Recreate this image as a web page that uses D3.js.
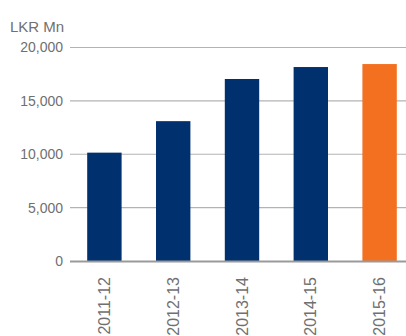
<!DOCTYPE html>
<meta charset="utf-8">
<head>
<script src="https://d3js.org/d3.v7.min.js"></script>
<style>
  body { margin: 0; background: #fff; }
  text { font-family: "Liberation Sans", Arial, sans-serif; fill: #707070; }
</style>
</head>
<body>
<svg width="406" height="336"></svg>
<script>
var years = ["2011-12", "2012-13", "2013-14", "2014-15", "2015-16"];
var values = [10150, 13100, 17050, 18170, 18450];
var barColors = ["#00306e", "#00306e", "#00306e", "#00306e", "#f37021"];
var yTicks = [0, 5000, 10000, 15000, 20000];

var svg = d3.select("svg"),
    margin = {top: 47.5, right: 0, bottom: 75, left: 70},
    width = +svg.attr("width") - margin.left - margin.right,
    height = 261 - margin.top,
    g = svg.append("g").attr("transform", "translate(" + margin.left + "," + margin.top + ")");

var x = d3.scaleBand()
    .domain(years)
    .range([0, width + 8])
    .paddingInner(0.5)
    .paddingOuter(0.25);

var y = d3.scaleLinear()
    .domain([0, 20000])
    .range([height, 0]);

// grid lines
g.append("g")
  .selectAll("line")
  .data(yTicks.slice(1))
  .enter().append("line")
  .attr("x1", 0)
  .attr("x2", width)
  .attr("y1", function(d) { return y(d); })
  .attr("y2", function(d) { return y(d); })
  .attr("stroke", "#b3b3b3")
  .attr("stroke-width", 1.2);

// y tick labels
g.append("g")
  .selectAll("text")
  .data(yTicks)
  .enter().append("text")
  .attr("x", -7)
  .attr("y", function(d) { return y(d); })
  .attr("dy", "0.35em")
  .attr("text-anchor", "end")
  .attr("font-size", 14)
  .text(function(d) { return d3.format(",")(d); });

g.append("text")
  .attr("x", -60)
  .attr("y", -16)
  .attr("font-size", 15)
  .text("LKR Mn");

g.append("g")
  .selectAll("rect")
  .data(values)
  .enter().append("rect")
  .attr("x", function(d, i) { return x(years[i]); })
  .attr("y", function(d) { return y(d); })
  .attr("width", x.bandwidth())
  .attr("height", function(d) { return height - y(d); })
  .attr("fill", function(d, i) { return barColors[i]; });

// baseline
g.append("line")
  .attr("x1", 0)
  .attr("x2", width)
  .attr("y1", height + 0.5)
  .attr("y2", height + 0.5)
  .attr("stroke", "#9a9a9a")
  .attr("stroke-width", 2.2);

// x labels
g.append("g")
  .selectAll("text")
  .data(years)
  .enter().append("text")
  .attr("transform", function(d) {
    return "translate(" + (x(d) + x.bandwidth() / 2) + "," + (height + 16) + ") rotate(-90)";
  })
  .attr("dy", "0.35em")
  .attr("text-anchor", "end")
  .attr("font-size", 16)
  .text(function(d) { return d; });
</script>
</body>
